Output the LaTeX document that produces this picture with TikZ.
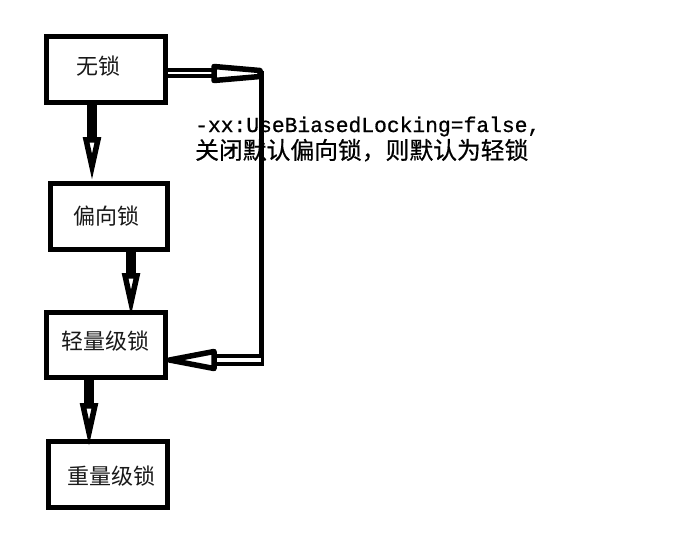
\documentclass[tikz,border=0pt]{standalone}
\usepackage{fontspec}
\newfontfamily\cjksans{Noto Sans CJK SC}
\newfontfamily\cjkbold[FakeBold=0.6]{Noto Sans CJK SC}
\newfontfamily\monofont[FakeBold=0.8]{Liberation Mono}
\usetikzlibrary{arrows.meta,calc}
\begin{document}
\begin{tikzpicture}[x=1pt,y=-1pt,
  box/.style={draw=black, line width=5pt, inner sep=0pt, minimum width=119pt, minimum height=65.5pt},
  lbl/.style={inner sep=0pt, font=\cjksans\fontsize{22}{26}\selectfont, text=black!90},
  varrow/.style={line width=10pt, -{Triangle[open, length=44pt, width=17pt, line width=5.5pt]}},
  shaft/.style={draw=black, line width=4.5pt, double=white},
  hhead/.style={draw=black, fill=white, line width=5.5pt, line join=round},
  vline/.style={draw=black, line width=5pt}
]
\useasboundingbox (0,0) rectangle (687,539);
% boxes
\node[box] (b1) at (106,69.25) {};
\node[box, minimum width=117.5pt] (b2) at (108.75,216.25) {};
\node[box, minimum height=65pt] (b3) at (106,345) {};
\node[box, minimum height=66pt] (b4) at (108,474.5) {};
% labels
\node[lbl] (l1) at ($(b1.center)+(-8,-3)$) {无锁};
\node[lbl] (l2) at ($(b2.center)+(-2,0)$) {偏向锁};
\node[lbl] (l3) at ($(b3.center)+(-1,-4)$) {轻量级锁};
\node[lbl] (l4) at ($(b4.center)+(3,2)$) {重量级锁};
% annotation text
\node[anchor=base west, inner sep=0pt, font=\monofont\fontsize{21.3}{24}\selectfont] (n1) at (195,132) {-xx:UseBiasedLocking=false,};
\node[anchor=base west, inner sep=0pt, font=\cjkbold\fontsize{23.8}{26}\selectfont] (n2) at (195,159) {关闭默认偏向锁，则默认为轻锁};
% vertical arrows
\draw[varrow] (b1.south -| 92,0) -- (b2.north -| 92,0);
\draw[varrow, shorten >=-7pt] (b2.south -| 131,0) -- (b3.north -| 131,0);
\draw[varrow, shorten >=-8pt] (b3.south -| 89,0) -- (b4.north -| 89,0);
% side route
\coordinate (tr) at (261,73);
\coordinate (br) at (261,360);
\draw[vline] ($(tr)+(0,-2.5)$) -- ($(br)+(0,6)$);
\draw[shaft, double distance=1.2pt] (b1.east |- tr) -- ($(tr)+(-47,0)$);
\draw[hhead] ($(tr)+(-1,-2.5)$) -- ($(tr)+(-47,-6.5)$) -- ($(tr)+(-47,7.5)$) -- ($(tr)+(-1,3.5)$) -- cycle;
\draw[shaft, double distance=3.5pt] (br) -- ($(b3.east |- br)+(46,0)$);
\draw[hhead] ($(b3.east |- br)+(1.5,0)$) -- ($(b3.east |- br)+(46,-8.5)$) -- ($(b3.east |- br)+(46,8.5)$) -- cycle;
\end{tikzpicture}
\end{document}
